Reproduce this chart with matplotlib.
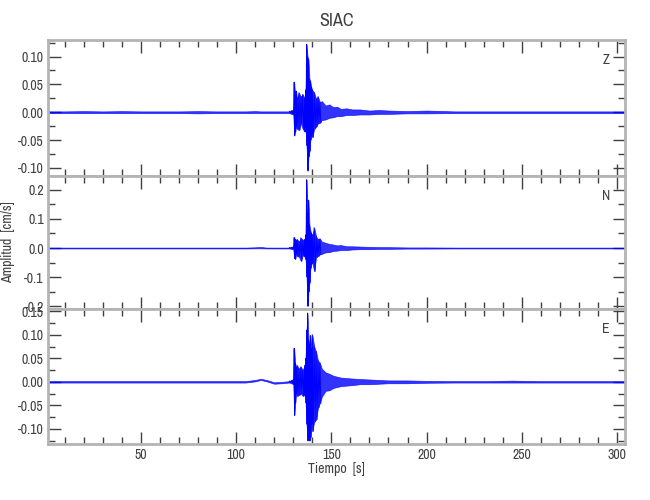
import matplotlib
matplotlib.use('Agg')
import matplotlib.pyplot as plt
from matplotlib import font_manager
from matplotlib.ticker import MultipleLocator, FormatStrFormatter

# look for a narrow face, IDL-like labels are tall and thin
names = sorted({f.name for f in font_manager.fontManager.ttflist})
narrow = [n for n in names if 'Narrow' in n or 'Condensed' in n]
if narrow:
    plt.rcParams['font.family'] = [narrow[0], 'DejaVu Sans']
else:
    plt.rcParams['font.family'] = ['DejaVu Sans']
    plt.rcParams['font.stretch'] = 'condensed'

# time bins (s) and per-bin max/min amplitude (cm/s)
t = [1, 10, 20, 30, 40, 50, 60, 70, 80, 90, 100, 105, 110, 113, 116, 120, 124, 128,
     129, 130, 130.5, 131, 131.5, 132, 133, 134, 135, 136, 136.5, 137, 137.5, 138,
     138.5, 139, 139.5, 140, 141, 142, 143, 144, 145, 147, 149, 151, 153, 155, 158,
     161, 165, 170, 175, 180, 190, 200, 215, 230, 245, 260, 275, 290, 304]

z_up = [.0015, .0015, .002, .0015, .002, .0015, .0015, .0015, .002, .0015, .0015, .0015, .002, .0015, .0015, .0015, .0015, .0015,
        .003, .004, .054, .030, .038, .025, .035, .028, .032, .025, .040, .122, .100, .095,
        .060, .055, .045, .040, .035, .024, .028, .018, .020, .012, .014, .009, .010, .006, .007,
        .005, .005, .003, .004, .003, .002, .003, .0015, .0015, .0015, .0015, .0015, .0015, .0015]
z_lo = [-.0015, -.0015, -.0015, -.0015, -.0015, -.0015, -.0015, -.0015, -.002, -.0015, -.0015, -.0015, -.0015, -.0015, -.0015, -.0015, -.0015, -.0015,
        -.003, -.004, -.042, -.035, -.025, -.030, -.032, -.020, -.030, -.035, -.030, -.060, -.105, -.080,
        -.070, -.050, -.040, -.045, -.030, -.026, -.020, -.019, -.014, -.013, -.010, -.009, -.007, -.007, -.005,
        -.005, -.004, -.004, -.003, -.003, -.002, -.002, -.0015, -.0015, -.0015, -.0015, -.0015, -.0015, -.0015]

n_up = [.0015, .0015, .0015, .0015, .0015, .0015, .0015, .0015, .0015, .0015, .0015, .0015, .0025, .0035, .0015, .0015, .0015, .0015,
        .003, .004, .036, .030, .025, .030, .022, .035, .028, .030, .045, .235, .120, .165,
        .080, .060, .050, .045, .070, .040, .030, .032, .022, .018, .014, .012, .009, .010, .006,
        .006, .005, .004, .003, .003, .002, .002, .0015, .0015, .0015, .0015, .0015, .0015, .0015]
n_lo = [-.0015, -.0015, -.0015, -.0015, -.0015, -.0015, -.0015, -.0015, -.0015, -.0015, -.0015, -.0015, -.001, -.001, -.0015, -.0015, -.0015, -.0015,
        -.003, -.004, -.035, -.038, -.020, -.028, -.030, -.045, -.025, -.030, -.040, -.100, -.200, -.150,
        -.120, -.070, -.055, -.050, -.080, -.032, -.028, -.022, -.020, -.015, -.014, -.010, -.009, -.007, -.007,
        -.005, -.004, -.004, -.003, -.003, -.002, -.002, -.0015, -.0015, -.0015, -.0015, -.0015, -.0015, -.0015]

e_up = [.0015, .0015, .0015, .0015, .0015, .0015, .0015, .0015, .0015, .0015, .0015, .0015, .004, .0065, .004, -.001, .000, .0015,
        .003, .005, .071, .040, .030, .035, .028, .032, .025, .035, .050, .110, .146, .090,
        .080, .098, .070, .100, .075, .064, .045, .040, .028, .020, .017, .013, .011, .009, .008,
        .007, .006, .005, .004, .003, .003, .002, .0015, .0015, .0025, .0015, .0015, .0015, .0015]
e_lo = [-.0015, -.0015, -.0015, -.0015, -.0015, -.0015, -.0015, -.0015, -.0015, -.0015, -.0015, -.0015, .001, .004, .001, -.004, -.003, -.0015,
        -.003, -.005, -.071, -.045, -.025, -.030, -.028, -.025, -.030, -.028, -.045, -.090, -.125, -.110,
        -.125, -.118, -.090, -.105, -.085, -.080, -.055, -.045, -.032, -.019, -.018, -.013, -.011, -.009, -.008,
        -.007, -.005, -.005, -.004, -.003, -.003, -.002, -.0015, -.0015, -.0015, -.0015, -.0015, -.0015, -.0015]

comps = ['Z', 'N', 'E']
ups = [z_up, n_up, e_up]
los = [z_lo, n_lo, e_lo]
ylims = [(-0.1145, 0.1297), (-0.21, 0.248), (-0.132, 0.1547)]
ysteps = [(0.05, 0.025, '%.2f'), (0.1, 0.05, '%.1f'), (0.05, 0.025, '%.2f')]
boxes = [[0.0738, 0.648, 0.8877, 0.272],
         [0.0738, 0.382, 0.8877, 0.266],
         [0.0738, 0.112, 0.8877, 0.270]]


def zigzag(tt, up, lo):
    # only where bins are short (the burst): max at bin start, min half way
    X, Y = [], []
    for k in range(len(tt) - 1):
        if tt[k + 1] - tt[k] > 1:
            continue
        X += [tt[k], (tt[k] + tt[k + 1]) / 2]
        Y += [up[k], lo[k]]
    return X, Y


fig = plt.figure(figsize=(6.5, 5), dpi=100)
txt = '#404040'

for i in range(3):
    ax = fig.add_axes(boxes[i])
    ax.fill_between(t, los[i], ups[i], color='#0000ff', alpha=0.8, linewidth=0.5, zorder=2)
    X, Y = zigzag(t, ups[i], los[i])
    ax.plot(X, Y, color='#0000ff', lw=0.7, zorder=3)
    ax.set_xlim(1.2, 304.2)
    ax.set_ylim(*ylims[i])
    ax.xaxis.set_major_locator(MultipleLocator(50))
    ax.xaxis.set_minor_locator(MultipleLocator(10))
    ax.yaxis.set_major_locator(MultipleLocator(ysteps[i][0]))
    ax.yaxis.set_minor_locator(MultipleLocator(ysteps[i][1]))
    ax.yaxis.set_major_formatter(FormatStrFormatter(ysteps[i][2]))
    ax.tick_params(which='both', direction='in', top=True, right=True,
                   color=txt, labelcolor=txt, labelsize=10, width=1, pad=3)
    ax.tick_params(which='major', length=9)
    ax.tick_params(which='minor', length=5)
    for s in ax.spines.values():
        s.set_color('#b4b4b4')
        s.set_linewidth(2)
    if i < 2:
        ax.tick_params(labelbottom=False)
    ax.text(0.967, 0.85, comps[i], transform=ax.transAxes, ha='center', va='center',
            fontsize=10, color=txt)

fig.text(0.517, 0.958, 'SIAC', ha='center', va='center', fontsize=13, color=txt)
fig.text(0.517, 0.062, 'Tiempo  [s]', ha='center', va='center', fontsize=10, color=txt)
fig.text(0.013, 0.516, 'Amplitud  [cm/s]', ha='center', va='center', rotation=90,
         fontsize=10, color=txt)

plt.savefig('out.png', dpi=100)
